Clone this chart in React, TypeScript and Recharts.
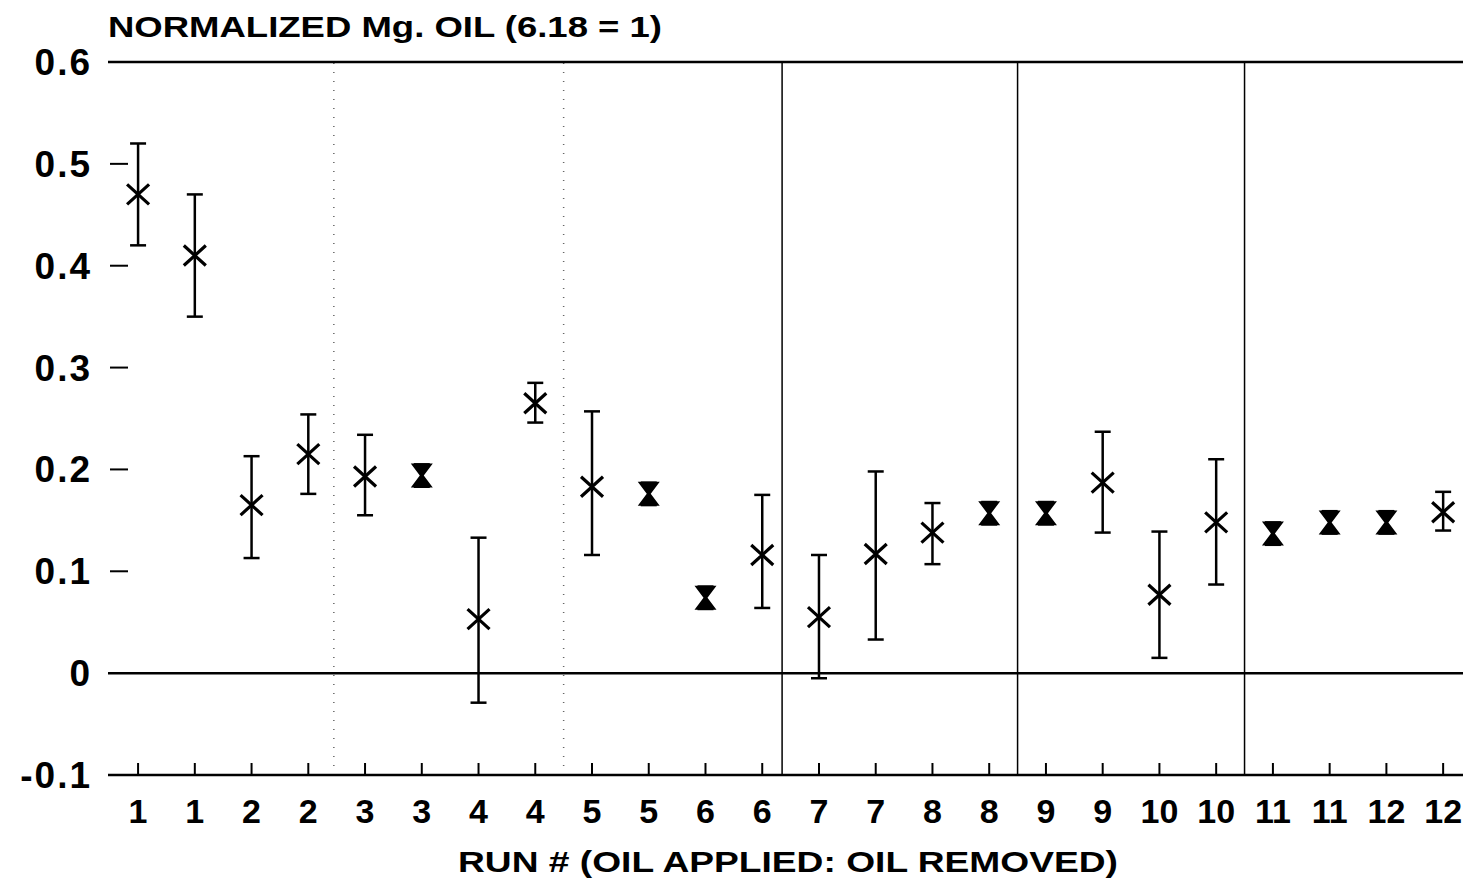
import React from 'react';
import {
  ScatterChart,
  Scatter,
  XAxis,
  YAxis,
  ErrorBar,
  ReferenceLine
} from 'recharts';

// run # labels (oil applied : oil removed)
const runLabels = ['1', '1', '2', '2', '3', '3', '4', '4', '5', '5', '6', '6', '7', '7', '8', '8', '9', '9', '10', '10', '11', '11', '12', '12'];

const means = [0.47, 0.41, 0.165, 0.215, 0.193, 0.194, 0.053, 0.265, 0.183, 0.176, 0.074, 0.116, 0.055, 0.117, 0.138, 0.157, 0.157, 0.187, 0.077, 0.148, 0.137, 0.148, 0.148, 0.158];
const upper = [0.52, 0.47, 0.213, 0.254, 0.234, 0.205, 0.133, 0.285, 0.257, 0.187, 0.085, 0.175, 0.116, 0.198, 0.167, 0.168, 0.168, 0.237, 0.139, 0.21, 0.148, 0.159, 0.159, 0.178];
const lower = [0.42, 0.35, 0.113, 0.176, 0.155, 0.183, -0.029, 0.246, 0.116, 0.165, 0.063, 0.064, -0.005, 0.033, 0.107, 0.146, 0.146, 0.138, 0.015, 0.087, 0.126, 0.137, 0.137, 0.14];

const yTicks = [-0.1, 0, 0.1, 0.2, 0.3, 0.4, 0.5, 0.6];
const xTicks = runLabels.map((_, i) => i + 1);
const solidDividers = [12.35, 16.5, 20.5];
const dottedDividers = [4.45, 8.5];

const data = means.map((m, i) => ({
  pos: i + 1,
  value: m,
  err: [m - lower[i], upper[i] - m],
  tight: upper[i] - lower[i] < 0.03,
}));

const FONT = '"Liberation Sans", Arial, sans-serif';

const Marker = (props: any) => {
  const { cx, cy, payload } = props;
  if (payload.tight) {
    return (
      <path
        d={`M${cx - 11},${cy - 12} L${cx + 11},${cy - 12} L${cx + 2},${cy} L${cx + 11},${cy + 12} L${cx - 11},${cy + 12} L${cx - 2},${cy} Z`}
        fill="#000"
      />
    );
  }
  return (
    <path
      d={`M${cx - 11},${cy - 10} L${cx + 11},${cy + 10} M${cx - 11},${cy + 10} L${cx + 11},${cy - 10}`}
      stroke="#000"
      strokeWidth={3.2}
      fill="none"
    />
  );
};

const XTick = (props: any) => {
  const { x, y, payload } = props;
  return (
    <g>
      <line x1={x} x2={x} y1={y - 12} y2={y} stroke="#000" strokeWidth={2} />
      <text x={x} y={y + 48} textAnchor="middle" fontFamily={FONT} fontWeight="bold" fontSize={34} fill="#000">
        {runLabels[payload.value - 1]}
      </text>
    </g>
  );
};

const YTick = (props: any) => {
  const { x, y, payload } = props;
  const v = payload.value;
  const label = v === 0 ? '0' : v.toFixed(1);
  const dash = v > 0 && v < 0.6;
  return (
    <g>
      <text x={x - 16} y={y + 13} textAnchor="end" fontFamily={FONT} fontWeight="bold" fontSize={37} letterSpacing={2} fill="#000">
        {label}
      </text>
      {dash && <line x1={x + 2} x2={x + 20} y1={y} y2={y} stroke="#000" strokeWidth={2} />}
    </g>
  );
};

const App: React.FC = () => {
  return (
    <div style={{ position: 'absolute', left: 0, top: 0, width: 1463, height: 878, background: '#fff' }}>
      <ScatterChart width={1463} height={878} margin={{ top: 62, right: 0, bottom: 0, left: 0 }}>
        <XAxis
          type="number"
          dataKey="pos"
          domain={[0.47, 24.35]}
          ticks={xTicks}
          interval={0}
          height={103}
          axisLine={false}
          tickLine={false}
          tickSize={0}
          tickMargin={0}
          tick={<XTick />}
        />
        <YAxis
          type="number"
          dataKey="value"
          domain={[-0.1, 0.6]}
          ticks={yTicks}
          interval={0}
          width={108}
          axisLine={false}
          tickLine={false}
          tickSize={0}
          tickMargin={0}
          tick={<YTick />}
        />
        {dottedDividers.map((d) => (
          <ReferenceLine key={`dot-${d}`} x={d} stroke="#666" strokeWidth={1.5} strokeDasharray="1 8" />
        ))}
        {solidDividers.map((d) => (
          <ReferenceLine key={`div-${d}`} x={d} stroke="#000" strokeWidth={1.5} />
        ))}
        <ReferenceLine y={0.6} stroke="#000" strokeWidth={2.5} />
        <ReferenceLine y={0} stroke="#000" strokeWidth={2.5} />
        <ReferenceLine y={-0.1} stroke="#000" strokeWidth={2.5} />
        <Scatter data={data} dataKey="value" shape={<Marker />} isAnimationActive={false}>
          <ErrorBar dataKey="err" direction="y" width={8} stroke="#000" strokeWidth={2.5} />
        </Scatter>
      </ScatterChart>
      <svg width={1463} height={878} style={{ position: 'absolute', left: 0, top: 0, pointerEvents: 'none' }}>
        <text x={108} y={37} fontFamily={FONT} fontWeight="bold" fontSize={30} textLength={554} lengthAdjust="spacingAndGlyphs" fill="#000">
          NORMALIZED Mg. OIL (6.18 = 1)
        </text>
        <text x={458} y={872} fontFamily={FONT} fontWeight="bold" fontSize={30} textLength={660} lengthAdjust="spacingAndGlyphs" fill="#000">
          RUN # (OIL APPLIED: OIL REMOVED)
        </text>
      </svg>
    </div>
  );
};

export default App;
